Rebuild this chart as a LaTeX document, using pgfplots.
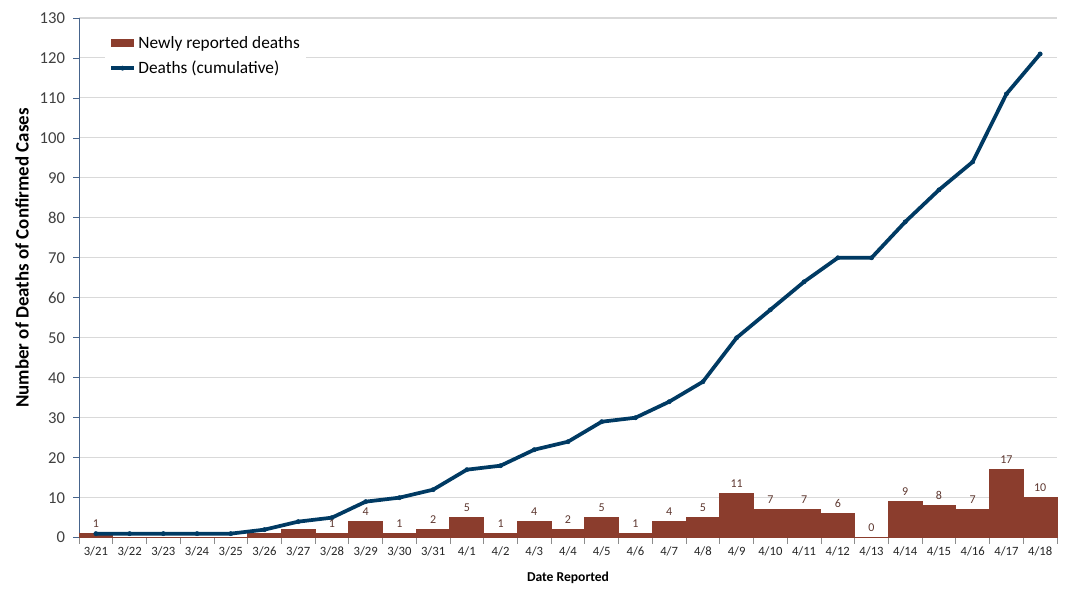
\documentclass[border=0pt]{standalone}
\usepackage{pgfplots}
\pgfplotsset{compat=1.18}
\usepackage{fontspec}
\setmainfont{Carlito}
\definecolor{barbrown}{RGB}{139,61,45}
\definecolor{lineblue}{RGB}{0,58,99}
\definecolor{labbrown}{RGB}{94,56,48}
\definecolor{axisblue}{RGB}{70,100,140}
\definecolor{ticktext}{RGB}{64,64,64}

\begin{document}
\begin{tikzpicture}
\begin{axis}[
  scale only axis,
  width=734pt, height=390pt,
  xmin=-0.5, xmax=28.5, ymin=0, ymax=130,
  ytick={0,10,...,130},
  xtick={-0.5,0.5,...,28.5},
  x tick label as interval,
  xticklabels={3/21,3/22,3/23,3/24,3/25,3/26,3/27,3/28,3/29,3/30,3/31,4/1,4/2,4/3,4/4,4/5,4/6,4/7,4/8,4/9,4/10,4/11,4/12,4/13,4/14,4/15,4/16,4/17,4/18},
  axis x line*=bottom, axis y line*=left,
  x axis line style={draw=black!45, line width=0.6pt},
  y axis line style={draw=axisblue, line width=0.6pt},
  tick align=outside,
  major tick length=4.5pt,
  xtick style={draw=black!45, line width=0.6pt},
  ytick style={draw=axisblue, line width=0.6pt},
  ymajorgrids,
  grid style={draw=black!15, line width=0.8pt},
  /pgf/number format/assume math mode=true,
  yticklabel style={font=\fontsize{12.5}{13}\selectfont, text=ticktext, xshift=-2.5pt},
  xticklabel style={font=\fontsize{9.5}{10}\selectfont, text=black!85, yshift=1.5pt},
  xlabel={\textbf{Date Reported}},
  ylabel={\textbf{Number of Deaths of Confirmed Cases}},
  xlabel style={font=\fontsize{10.2}{11}\selectfont, at={(axis description cs:0.5,-0.077)}, anchor=center},
  ylabel style={font=\fontsize{14.2}{15}\selectfont, at={(axis description cs:-0.0583,0.538)}, anchor=center},
  legend style={draw=none, fill=white, at={(0.0266,0.981)}, anchor=north west,
    font=\fontsize{13}{14}\selectfont, cells={anchor=west},
    inner xsep=3pt, inner ysep=4pt, row sep=4pt},
]
\addplot[ybar, bar width=1, fill=barbrown, draw=barbrown, line width=0pt, area legend] coordinates {
  (0,1) (1,0) (2,0) (3,0) (4,0) (5,1) (6,2) (7,1) (8,4) (9,1) (10,2)
  (11,5) (12,1) (13,4) (14,2) (15,5) (16,1) (17,4) (18,5) (19,11)
  (20,7) (21,7) (22,6) (23,0) (24,9) (25,8) (26,7) (27,17) (28,10)
};
\addlegendentry{Newly reported deaths}
\addplot[line width=2.8pt, color=lineblue, mark=*, mark size=1.6pt,
  mark options={fill=lineblue, draw=lineblue, line width=0.4pt}] coordinates {
  (0,1) (1,1) (2,1) (3,1) (4,1) (5,2) (6,4) (7,5) (8,9) (9,10) (10,12)
  (11,17) (12,18) (13,22) (14,24) (15,29) (16,30) (17,34) (18,39) (19,50)
  (20,57) (21,64) (22,70) (23,70) (24,79) (25,87) (26,94) (27,111) (28,121)
};
\addlegendentry{Deaths (cumulative)}
\addplot[draw=none, forget plot, nodes near coords, point meta=explicit symbolic,
  every node near coord/.append style={font=\fontsize{9}{10}\selectfont, text=labbrown, anchor=south, yshift=1pt}]
  coordinates {
  (0,1) [1] (7,1) [1] (8,4) [4] (9,1) [1] (10,2) [2]
  (11,5) [5] (12,1) [1] (13,4) [4] (14,2) [2] (15,5) [5] (16,1) [1]
  (17,4) [4] (18,5) [5] (19,11) [11] (20,7) [7] (21,7) [7] (22,6) [6]
  (23,0) [0] (24,9) [9] (25,8) [8] (26,7) [7] (27,17) [17] (28,10) [10]
};
\end{axis}
\path ([xshift=6.75pt,yshift=13.5pt]current axis.north east)
      ([xshift=-59.3pt,yshift=-39pt]current axis.south west);
\end{tikzpicture}
\end{document}
